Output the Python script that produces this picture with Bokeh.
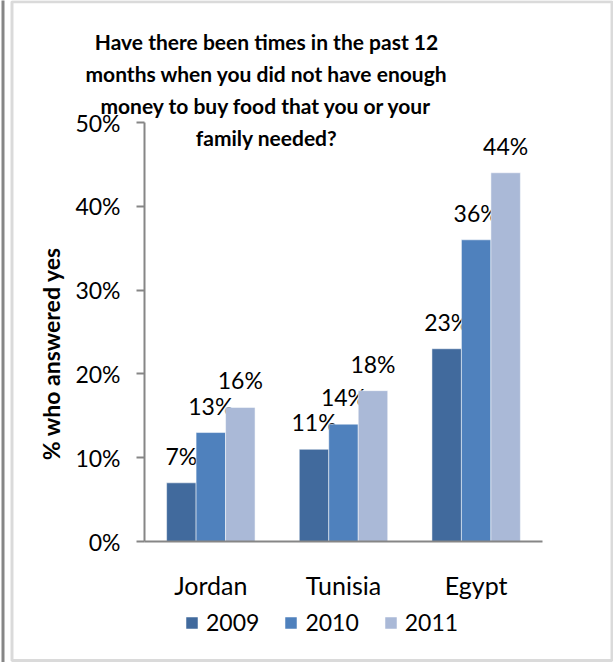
from math import pi
from bokeh.plotting import figure
from bokeh.models import (Range1d, ColumnDataSource, NumeralTickFormatter,
                          FixedTicker, Label, Legend, LegendItem, BoxAnnotation)
from bokeh.transform import dodge
from bokeh.embed import file_html
from bokeh.resources import INLINE
from bokeh.core.properties import value

# ---- data ----
countries = ["Jordan", "Tunisia", "Egypt"]
years = ["2009", "2010", "2011"]
v2009 = [0.07, 0.11, 0.23]
v2010 = [0.13, 0.14, 0.36]
v2011 = [0.16, 0.18, 0.44]
y_ticks = [0, 0.1, 0.2, 0.3, 0.4, 0.5]
title_text = ("Have there been times in the past 12\n"
              "months when you did not have enough\n"
              "money to buy food that you or your\n"
              "family needed?")
y_label = "% who answered yes"

# ---- style ----
colors = ["#416A9D", "#4F81BD", "#AAB9D7"]
axis_gray = "#868686"
FONT = "Lato"
W, H = 613, 662
FL, FR, FT, FB = 144, 542, 122, 541   # plot area in pixels
ncat = len(countries)
ppx = (FR - FL) / ncat        # pixels per category
ppy = (FB - FT) / 0.5         # pixels per unit of y

def xs(px):
    return -0.5 + (px - FL) / ppx

def ys(py):
    return (FB - py) / ppy

p = figure(width=W, height=H,
           x_range=Range1d(xs(0), xs(W)), y_range=Range1d(ys(H), ys(0)),
           output_backend="svg", toolbar_location=None, min_border=0)
p.background_fill_color = "white"
p.border_fill_color = "white"
p.outline_line_color = None
p.grid.visible = False

idx = list(range(ncat))
src = ColumnDataSource(dict(
    idx=idx,
    y2009=v2009, y2010=v2010, y2011=v2011,
    l2009=[f"{round(v * 100)}%" for v in v2009],
    l2010=[f"{round(v * 100)}%" for v in v2010],
    l2011=[f"{round(v * 100)}%" for v in v2011],
))

bw = 2 / 9
offsets = [-bw, 0, bw]
renderers = []
for yr, off, col in zip(years, offsets, colors):
    r = p.vbar(x=dodge("idx", off), top="y" + yr, width=bw,
               source=src, fill_color=col, line_color="white", line_alpha=0.5, line_width=1)
    renderers.append(r)
    p.text(x=dodge("idx", off), y="y" + yr, text="l" + yr, source=src,
           text_align="center", text_baseline="middle", y_offset=-27,
           text_font=value(FONT), text_font_size="23px", text_color="black")

# axes
p.yaxis.fixed_location = -0.5
p.yaxis.bounds = (0, 0.5)
p.yaxis.ticker = FixedTicker(ticks=y_ticks)
p.yaxis.formatter = NumeralTickFormatter(format="0%")
p.yaxis.major_tick_out = 8
p.yaxis.major_tick_in = 0
p.yaxis.minor_tick_line_color = None
p.yaxis.major_label_standoff = 16

p.xaxis.fixed_location = 0
p.xaxis.bounds = (-0.5, ncat - 0.5)
p.xaxis.ticker = FixedTicker(ticks=idx)
p.xaxis.major_label_overrides = {i: c for i, c in zip(idx, countries)}
p.xaxis.minor_tick_line_color = None

for ax in (p.xaxis, p.yaxis):
    ax.axis_line_color = axis_gray
    ax.axis_line_width = 2
    ax.major_tick_line_color = axis_gray
    ax.major_tick_line_width = 2
    ax.major_label_text_font = FONT
    ax.major_label_text_font_size = "23px"
    ax.major_label_text_color = "black"
p.xaxis.major_tick_line_color = None
p.xaxis.major_tick_out = 0
p.xaxis.major_tick_in = 0
p.xaxis.major_label_standoff = 28
p.xaxis.major_label_text_font_size = "25px"

# title
p.add_layout(Label(x=xs(266), y=ys(89), text=title_text, text_align="center",
                   text_baseline="middle", text_font=FONT, text_font_style="bold",
                   text_font_size="21px", text_line_height=1.27, text_color="black"))
# y-axis title
p.add_layout(Label(x=xs(50), y=ys(353), text=y_label, angle=pi / 2, text_align="center",
                   text_baseline="middle", text_font=FONT, text_font_style="bold",
                   text_font_size="23px", text_color="black"))

# legend
legend = Legend(items=[LegendItem(label=yr, renderers=[r]) for yr, r in zip(years, renderers)],
                orientation="horizontal", location=(184, H - 636),
                glyph_width=15, glyph_height=15, label_standoff=7, spacing=24,
                padding=0, margin=0, border_line_color=None, background_fill_alpha=0,
                label_text_font=FONT, label_text_font_size="23px", label_text_color="black")
p.add_layout(legend)

# chart frame borders
p.add_layout(BoxAnnotation(left=xs(11.5), right=xs(611.5), top=ys(1.3), bottom=ys(660),
                           fill_alpha=0, line_color=axis_gray, line_width=3))
p.add_layout(BoxAnnotation(left=xs(1), right=xs(4), top=ys(-5), bottom=ys(670),
                           fill_color=axis_gray, fill_alpha=1, line_color=None))

open("out.html", "w").write(file_html(p, INLINE))
